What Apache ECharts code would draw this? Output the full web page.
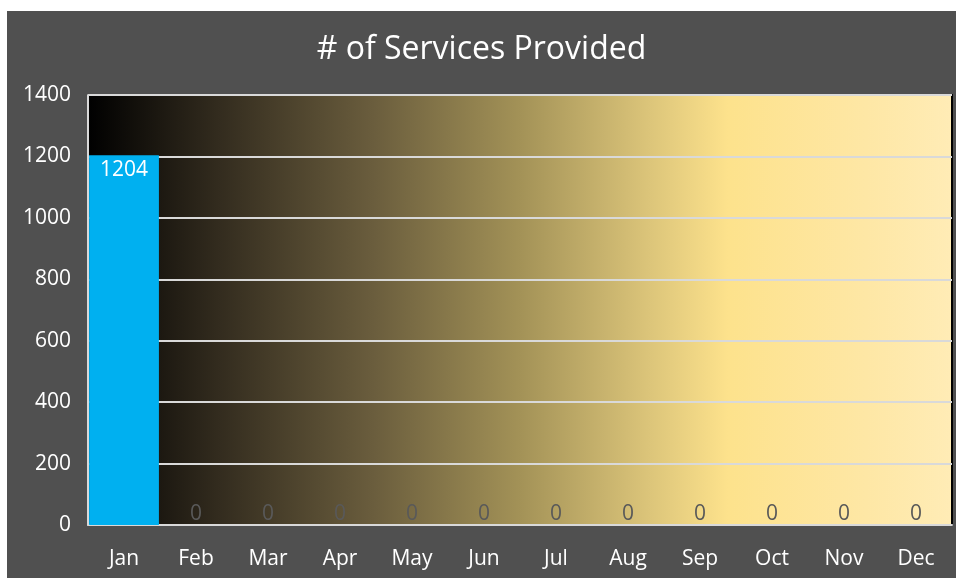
<!DOCTYPE html>
<html><head><meta charset="utf-8">
<script src="https://cdn.jsdelivr.net/npm/echarts@6/dist/echarts.min.js"></script>
<style>
html,body{margin:0;padding:0;background:#ffffff;width:956px;height:578px;overflow:hidden;}
#c{position:absolute;left:7px;top:11px;width:949px;height:567px;}
</style></head><body>
<div id="c"></div>
<script>
const titleText = '# of Services Provided';
const months = ['Jan','Feb','Mar','Apr','May','Jun','Jul','Aug','Sep','Oct','Nov','Dec'];
const services = [1204,0,0,0,0,0,0,0,0,0,0,0];

const chart = echarts.init(document.getElementById('c'));
const font = 'Open Sans, Noto Sans, sans-serif';
chart.setOption({
  backgroundColor: '#505050',
  animation: false,
  title: {
    text: titleText, left: 'center', top: 18,
    textStyle: {color: '#ffffff', fontSize: 32, fontWeight: 'normal', fontFamily: font}
  },
  grid: {
    left: 81, right: 4, top: 84, bottom: 53, show: true,
    borderColor: '#000000', borderWidth: 2,
    backgroundColor: new echarts.graphic.LinearGradient(0,0,1,0,[
      {offset:0, color:'#000000'},
      {offset:0.15, color:'#322b1e'},
      {offset:0.33, color:'#6a5d3d'},
      {offset:0.5, color:'#a39257'},
      {offset:0.65, color:'#dcc57a'},
      {offset:0.74, color:'#fde28c'},
      {offset:0.9, color:'#fee7a5'},
      {offset:1, color:'#ffecb6'}
    ])
  },
  xAxis: {
    type: 'category', data: months,
    axisLine: {show: true, lineStyle: {color: '#d9d9d9', width: 2}},
    axisTick: {show: false},
    axisLabel: {color: '#ffffff', fontSize: 21, fontFamily: font, margin: 24}
  },
  yAxis: {
    type: 'value', min: 0, max: 1400, interval: 200,
    axisLine: {show: true, lineStyle: {color: '#d9d9d9', width: 2}},
    axisTick: {show: false},
    splitLine: {lineStyle: {color: '#d9d9d9', width: 2}},
    axisLabel: {color: '#ffffff', fontSize: 21, fontFamily: font, margin: 17, formatter: v => String(v)}
  },
  series: [{
    type: 'bar',
    barCategoryGap: '3%',
    itemStyle: {color: '#00b0f0'},
    data: services.map((v,i) => ({
      value: v,
      label: i === 0 ?
        {show: true, position: 'insideTop', color: '#ffffff', fontSize: 21, fontFamily: font, distance: 4} :
        {show: true, position: 'top', color: '#595959', fontSize: 21, fontFamily: font, distance: 0}
    }))
  }]
});
</script>
</body></html>
